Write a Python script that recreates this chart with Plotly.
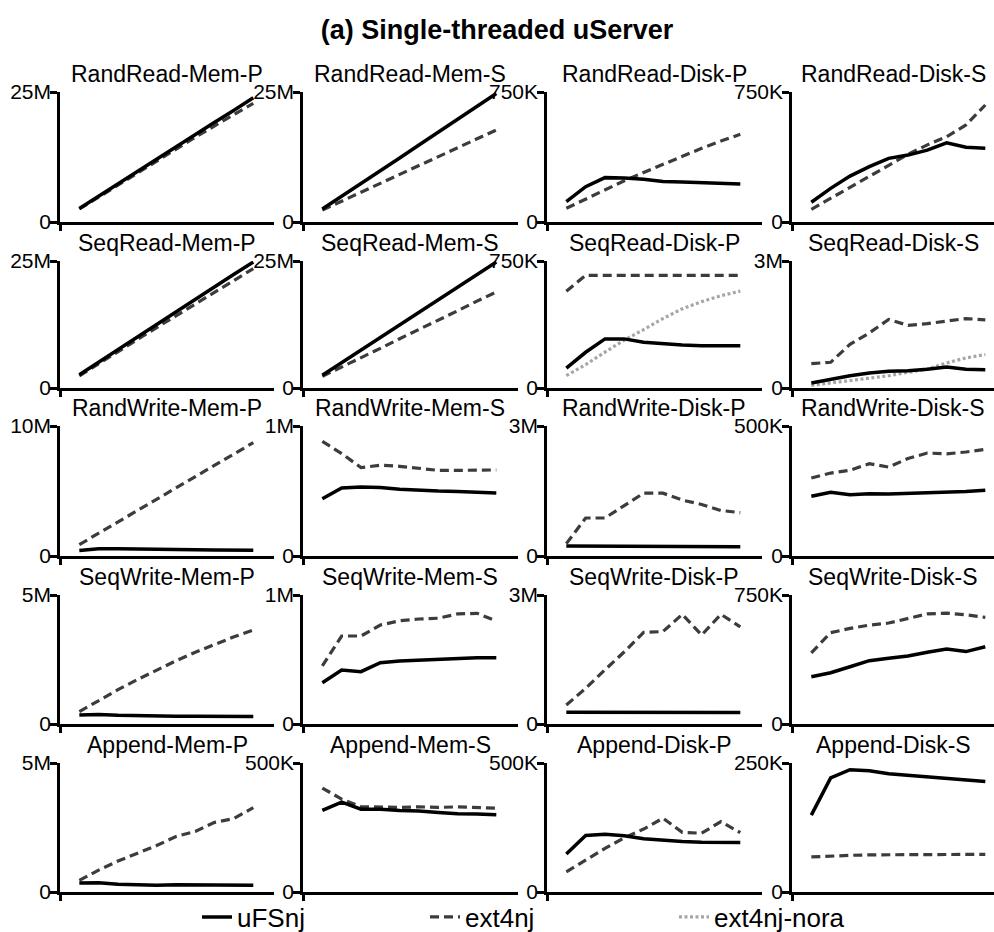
import plotly.graph_objects as go

# Throughput (K ops/s) for 1..10 clients
clients = [1, 2, 3, 4, 5, 6, 7, 8, 9, 10]

randread_mem_p_ufs = [2600, 5000, 7400, 9800, 12200, 14500, 16900, 19200, 21500, 23900]
randread_mem_p_ext4 = [2500, 4800, 7100, 9400, 11800, 14000, 16300, 18500, 20700, 22800]
randread_mem_s_ufs = [2500, 4900, 7400, 9900, 12300, 14800, 17300, 19800, 22300, 24700]
randread_mem_s_ext4 = [2300, 4000, 5700, 7400, 9100, 10800, 12600, 14300, 16000, 17700]
randread_disk_p_ufs = [117, 204, 256, 254, 246, 233, 231, 227, 223, 219]
randread_disk_p_ext4 = [79, 133, 186, 238, 286, 333, 380, 425, 467, 506]
randread_disk_s_ufs = [114, 194, 265, 319, 367, 386, 415, 457, 431, 425]
randread_disk_s_ext4 = [73, 136, 200, 263, 327, 390, 445, 492, 560, 675]

seqread_mem_p_ufs = [2600, 5100, 7500, 9900, 12400, 14900, 17400, 19900, 22400, 24800]
seqread_mem_p_ext4 = [2400, 4800, 7100, 9500, 11900, 14200, 16500, 18800, 21200, 23500]
seqread_mem_s_ufs = [2500, 5000, 7500, 9900, 12400, 14900, 17400, 19900, 22300, 24800]
seqread_mem_s_ext4 = [2300, 4100, 6000, 7800, 9700, 11500, 13400, 15200, 17100, 18900]
seqread_disk_p_ufs = [118, 211, 290, 290, 270, 260, 254, 250, 250, 250]
seqread_disk_p_ext4 = [572, 665, 665, 665, 665, 665, 665, 665, 665, 665]
seqread_disk_p_nora = [73, 138, 212, 283, 345, 410, 468, 510, 545, 572]
seqread_disk_s_ufs = [118, 213, 291, 355, 393, 410, 441, 498, 441, 434]
seqread_disk_s_ext4 = [576, 607, 1030, 1300, 1620, 1480, 1520, 1580, 1640, 1610]
seqread_disk_s_nora = [62, 118, 173, 244, 290, 370, 445, 592, 711, 789]

randwrite_mem_p_ufs = [420, 550, 550, 520, 500, 490, 480, 470, 460, 450]
randwrite_mem_p_ext4 = [880, 1750, 2620, 3500, 4370, 5240, 6100, 6980, 7850, 8720]
randwrite_mem_s_ufs = [441, 523, 531, 526, 513, 505, 500, 497, 490, 485]
randwrite_mem_s_ext4 = [882, 788, 680, 698, 690, 672, 659, 659, 660, 662]
randwrite_disk_p_ufs = [230, 228, 225, 222, 220, 218, 217, 216, 215, 215]
randwrite_disk_p_ext4 = [286, 877, 877, 1170, 1450, 1450, 1290, 1190, 1050, 1000]
randwrite_disk_s_ufs = [230, 245, 236, 239, 238, 240, 242, 246, 248, 253]
randwrite_disk_s_ext4 = [300, 319, 330, 355, 342, 375, 396, 393, 400, 410]

seqwrite_mem_p_ufs = [350, 370, 340, 320, 300, 300, 300, 300, 290, 290]
seqwrite_mem_p_ext4 = [480, 920, 1330, 1720, 2090, 2450, 2780, 3080, 3380, 3640]
seqwrite_mem_s_ufs = [320, 419, 406, 475, 488, 496, 504, 510, 514, 514]
seqwrite_mem_s_ext4 = [450, 682, 682, 767, 800, 814, 820, 853, 858, 800]
seqwrite_disk_p_ufs = [275, 272, 270, 268, 265, 265, 265, 266, 266, 266]
seqwrite_disk_p_ext4 = [442, 830, 1260, 1680, 2130, 2150, 2550, 2070, 2550, 2260]
seqwrite_disk_s_ufs = [275, 298, 333, 368, 382, 395, 417, 436, 421, 449]
seqwrite_disk_s_ext4 = [414, 531, 556, 575, 587, 614, 640, 645, 635, 620]

append_mem_p_ufs = [350, 360, 300, 280, 260, 280, 270, 260, 260, 260]
append_mem_p_ext4 = [450, 850, 1200, 1500, 1800, 2150, 2350, 2700, 2850, 3270]
append_mem_s_ufs = [316, 348, 321, 321, 316, 314, 308, 303, 302, 299]
append_mem_s_ext4 = [403, 360, 331, 329, 328, 330, 328, 330, 328, 325]
append_disk_p_ufs = [147, 219, 224, 218, 206, 200, 196, 193, 193, 192]
append_disk_p_ext4 = [78, 124, 169, 210, 244, 286, 231, 228, 273, 230]
append_disk_s_ufs = [149, 221, 237, 235, 229, 226, 223, 220, 216, 214]
append_disk_s_ext4 = [68, 70, 71, 72, 72, 72, 72, 73, 73, 73]

panel_titles = [
    "RandRead-Mem-P", "RandRead-Mem-S", "RandRead-Disk-P", "RandRead-Disk-S",
    "SeqRead-Mem-P", "SeqRead-Mem-S", "SeqRead-Disk-P", "SeqRead-Disk-S",
    "RandWrite-Mem-P", "RandWrite-Mem-S", "RandWrite-Disk-P", "RandWrite-Disk-S",
    "SeqWrite-Mem-P", "SeqWrite-Mem-S", "SeqWrite-Disk-P", "SeqWrite-Disk-S",
    "Append-Mem-P", "Append-Mem-S", "Append-Disk-P", "Append-Disk-S",
]
y_max_values = [
    25000, 25000, 750, 750,
    25000, 25000, 750, 3000,
    10000, 1000, 3000, 500,
    5000, 1000, 3000, 750,
    5000, 500, 500, 250,
]
y_max_labels = [
    "25M", "25M", "750K", "750K",
    "25M", "25M", "750K", "3M",
    "10M", "1M", "3M", "500K",
    "5M", "1M", "3M", "750K",
    "5M", "500K", "500K", "250K",
]

ufs_series = [
    randread_mem_p_ufs, randread_mem_s_ufs, randread_disk_p_ufs, randread_disk_s_ufs,
    seqread_mem_p_ufs, seqread_mem_s_ufs, seqread_disk_p_ufs, seqread_disk_s_ufs,
    randwrite_mem_p_ufs, randwrite_mem_s_ufs, randwrite_disk_p_ufs, randwrite_disk_s_ufs,
    seqwrite_mem_p_ufs, seqwrite_mem_s_ufs, seqwrite_disk_p_ufs, seqwrite_disk_s_ufs,
    append_mem_p_ufs, append_mem_s_ufs, append_disk_p_ufs, append_disk_s_ufs,
]
ext4_series = [
    randread_mem_p_ext4, randread_mem_s_ext4, randread_disk_p_ext4, randread_disk_s_ext4,
    seqread_mem_p_ext4, seqread_mem_s_ext4, seqread_disk_p_ext4, seqread_disk_s_ext4,
    randwrite_mem_p_ext4, randwrite_mem_s_ext4, randwrite_disk_p_ext4, randwrite_disk_s_ext4,
    seqwrite_mem_p_ext4, seqwrite_mem_s_ext4, seqwrite_disk_p_ext4, seqwrite_disk_s_ext4,
    append_mem_p_ext4, append_mem_s_ext4, append_disk_p_ext4, append_disk_s_ext4,
]
nora_series = {6: seqread_disk_p_nora, 7: seqread_disk_s_nora}

# ---- layout geometry (pixels) ----
W, H = 994, 932
FONT = "Liberation Sans, Arial, Helvetica, sans-serif"
col_left = [60, 303, 547, 792]
col_right = [274, 518, 762, 994]
row_top = [92, 261, 426, 595, 763]
row_bottom = [222, 388, 556, 724, 892]
px_per_client = 19.33

def fx(px):
    return px / W

def fy(px):
    return 1 - px / H

fig = go.Figure()

style_ufs = dict(color="black", width=3.5)
style_ext4 = dict(color="#3c3c3c", width=3.2, dash="9px,5px")
style_nora = dict(color="#a6a6a6", width=3.2, dash="3px,2.5px")

shown = set()
annotations = []
for i, title in enumerate(panel_titles):
    r, c = divmod(i, 4)
    idx = i + 1
    xa = "x" if idx == 1 else f"x{idx}"
    ya = "y" if idx == 1 else f"y{idx}"

    def add(series, name, style, legend):
        fig.add_trace(go.Scatter(
            x=clients, y=series, mode="lines", name=name, line=style,
            xaxis=xa, yaxis=ya, legend=legend,
            showlegend=name not in shown,
        ))
        shown.add(name)

    if i in nora_series:
        add(nora_series[i], "ext4nj-nora", style_nora, "legend3")
    add(ext4_series[i], "ext4nj", style_ext4, "legend2")
    add(ufs_series[i], "uFSnj", style_ufs, "legend")

    width_px = col_right[c] - col_left[c]
    fig.layout[f"xaxis{'' if idx == 1 else idx}"] = dict(
        domain=[fx(col_left[c]), fx(col_right[c])],
        range=[0, width_px / px_per_client],
        anchor=ya, showline=True, linecolor="black", linewidth=2.5,
        showgrid=False, zeroline=False,
        tickmode="array", tickvals=[0], ticks="outside", ticklen=6,
        tickwidth=2.5, tickcolor="black", showticklabels=False,
    )
    fig.layout[f"yaxis{'' if idx == 1 else idx}"] = dict(
        domain=[fy(row_bottom[r]), fy(row_top[r])],
        range=[0, y_max_values[i]],
        anchor=xa, showline=True, linecolor="black", linewidth=2.5,
        showgrid=False, zeroline=False,
        tickmode="array", tickvals=[0, y_max_values[i]],
        ticktext=["0", y_max_labels[i]],
        ticks="outside", ticklen=7, tickwidth=2.5, tickcolor="black",
        ticklabelstandoff=-5,
        tickfont=dict(family=FONT, size=21, color="black"),
    )
    annotations.append(dict(
        text=title, xref="paper", yref="paper",
        x=fx((col_left[c] + min(col_right[c], col_left[c] + 214)) / 2),
        y=fy(row_top[r] - 18), xanchor="center", yanchor="middle",
        showarrow=False, font=dict(family=FONT, size=23, color="black"),
    ))

legend_common = dict(
    orientation="h", yref="paper", y=fy(917), yanchor="middle",
    xanchor="left", bgcolor="rgba(0,0,0,0)", borderwidth=0,
    font=dict(family=FONT, size=26, color="black"),
)

fig.update_layout(
    width=W, height=H, autosize=False,
    margin=dict(l=0, r=0, t=0, b=0, autoexpand=False),
    paper_bgcolor="white", plot_bgcolor="white",
    font=dict(family=FONT, color="black"),
    title=dict(
        text="<b>(a) Single-threaded uServer</b>",
        x=0.5, xanchor="center", y=fy(30), yanchor="middle",
        font=dict(family=FONT, size=27, color="black"),
    ),
    annotations=annotations,
    legend=dict(x=fx(197), **legend_common),
    legend2=dict(x=fx(425), **legend_common),
    legend3=dict(x=fx(674), **legend_common),
)

fig.write_html("out.html")
